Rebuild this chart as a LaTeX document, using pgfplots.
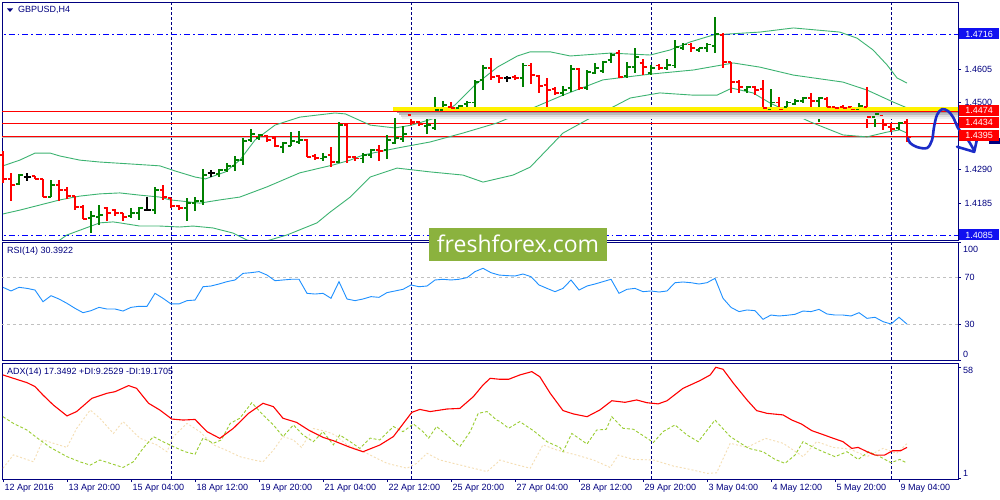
\documentclass[border=0pt]{standalone}
\usepackage{pgfplots}
\pgfplotsset{compat=1.18}
\usepackage{pgfplotstable}
\usepackage{fontspec}
\setmainfont{Liberation Sans}
\newfontfamily\logofont{Open Sans}

\definecolor{navyc}{RGB}{0,0,128}
\definecolor{bullc}{RGB}{0,128,0}
\definecolor{bearc}{RGB}{255,0,0}
\definecolor{bandc}{RGB}{60,179,113}
\definecolor{rsic}{RGB}{30,144,255}
\definecolor{pdic}{RGB}{154,205,50}
\definecolor{mdic}{RGB}{245,222,179}
\definecolor{levelc}{RGB}{192,192,192}
\definecolor{boxblue}{RGB}{16,16,240}
\definecolor{logoc}{RGB}{139,178,62}
\definecolor{penc}{RGB}{28,44,200}

% open / close ticks of an OHLC bar
\pgfdeclareplotmark{otick}{\pgfpathmoveto{\pgfqpoint{-3.5pt}{0pt}}\pgfpathlineto{\pgfqpoint{0pt}{0pt}}\pgfusepathqstroke}
\pgfdeclareplotmark{ctick}{\pgfpathmoveto{\pgfqpoint{0pt}{0pt}}\pgfpathlineto{\pgfqpoint{3.5pt}{0pt}}\pgfusepathqstroke}

% GBPUSD H4, bar index i (0 = 12 Apr 12:00)
\pgfplotstableread{
i o h l c
2 1.4245 1.4276 1.4242 1.4273
6 1.4204 1.4258 1.4204 1.4242
11 1.4138 1.4160 1.4091 1.4145
12 1.4141 1.4179 1.4116 1.4148
16 1.4145 1.4170 1.4138 1.4154
17 1.4154 1.4173 1.4132 1.4170
19 1.4163 1.4236 1.4151 1.4226
23 1.4170 1.4201 1.4129 1.4185
24 1.4185 1.4204 1.4160 1.4192
25 1.4192 1.4292 1.4179 1.4273
27 1.4276 1.4292 1.4267 1.4289
28 1.4289 1.4311 1.4283 1.4302
29 1.4302 1.4333 1.4286 1.4320
30 1.4320 1.4389 1.4305 1.4380
31 1.4383 1.4418 1.4377 1.4402
32 1.4389 1.4402 1.4383 1.4399
35 1.4361 1.4377 1.4342 1.4374
36 1.4364 1.4408 1.4364 1.4380
37 1.4377 1.4411 1.4371 1.4383
40 1.4324 1.4342 1.4317 1.4330
42 1.4314 1.4440 1.4311 1.4430
45 1.4324 1.4342 1.4311 1.4336
46 1.4336 1.4355 1.4327 1.4352
48 1.4352 1.4399 1.4324 1.4383
49 1.4374 1.4452 1.4371 1.4389
50 1.4386 1.4427 1.4377 1.4402
53 1.4427 1.4459 1.4402 1.4430
54 1.4421 1.4518 1.4415 1.4477
55 1.4477 1.4506 1.4462 1.4493
57 1.4484 1.4493 1.4477 1.4490
58 1.4496 1.4506 1.4487 1.4502
59 1.4502 1.4572 1.4484 1.4565
60 1.4572 1.4619 1.4540 1.4609
65 1.4578 1.4625 1.4550 1.4616
70 1.4531 1.4553 1.4521 1.4540
71 1.4546 1.4619 1.4534 1.4606
73 1.4546 1.4603 1.4540 1.4597
74 1.4594 1.4625 1.4590 1.4609
75 1.4600 1.4631 1.4594 1.4628
76 1.4634 1.4656 1.4625 1.4650
78 1.4584 1.4628 1.4578 1.4612
79 1.4612 1.4672 1.4594 1.4644
81 1.4594 1.4619 1.4587 1.4609
83 1.4609 1.4638 1.4603 1.4619
84 1.4616 1.4697 1.4609 1.4675
85 1.4672 1.4688 1.4666 1.4682
87 1.4666 1.4672 1.4660 1.4672
88 1.4672 1.4688 1.4660 1.4682
89 1.4678 1.4769 1.4656 1.4716
93 1.4540 1.4553 1.4531 1.4550
96 1.4480 1.4543 1.4459 1.4502
98 1.4487 1.4506 1.4474 1.4502
99 1.4496 1.4512 1.4493 1.4506
100 1.4506 1.4518 1.4499 1.4515
102 1.4506 1.4518 1.4440 1.4515
107 1.4480 1.4499 1.4452 1.4490
109 1.4455 1.4477 1.4424 1.4465
112 1.4421 1.4440 1.4415 1.4437
}\bullbars

\pgfplotstableread{
i o h l c
0 1.4336 1.4349 1.4248 1.4261
1 1.4261 1.4280 1.4192 1.4242
4 1.4270 1.4270 1.4261 1.4261
5 1.4261 1.4261 1.4204 1.4204
7 1.4242 1.4258 1.4192 1.4226
8 1.4226 1.4236 1.4198 1.4207
9 1.4207 1.4207 1.4163 1.4173
10 1.4173 1.4179 1.4135 1.4135
13 1.4170 1.4173 1.4129 1.4154
14 1.4163 1.4167 1.4145 1.4154
15 1.4154 1.4154 1.4129 1.4141
20 1.4226 1.4242 1.4195 1.4204
21 1.4201 1.4201 1.4170 1.4176
22 1.4176 1.4179 1.4163 1.4170
33 1.4396 1.4399 1.4377 1.4383
34 1.4389 1.4393 1.4361 1.4364
38 1.4383 1.4386 1.4330 1.4330
39 1.4333 1.4339 1.4320 1.4327
41 1.4336 1.4361 1.4298 1.4314
43 1.4430 1.4437 1.4311 1.4330
44 1.4330 1.4333 1.4317 1.4324
47 1.4352 1.4367 1.4317 1.4349
51 1.4462 1.4465 1.4430 1.4440
52 1.4440 1.4443 1.4427 1.4433
56 1.4487 1.4502 1.4468 1.4484
61 1.4609 1.4641 1.4572 1.4581
62 1.4584 1.4587 1.4562 1.4578
64 1.4581 1.4587 1.4572 1.4578
66 1.4616 1.4625 1.4559 1.4587
67 1.4584 1.4587 1.4531 1.4553
68 1.4556 1.4578 1.4474 1.4540
69 1.4543 1.4550 1.4524 1.4531
72 1.4606 1.4609 1.4540 1.4546
77 1.4656 1.4666 1.4578 1.4581
80 1.4625 1.4638 1.4587 1.4612
82 1.4616 1.4622 1.4603 1.4609
86 1.4682 1.4688 1.4660 1.4672
90 1.4713 1.4719 1.4609 1.4628
91 1.4628 1.4628 1.4531 1.4565
92 1.4565 1.4572 1.4531 1.4550
94 1.4550 1.4553 1.4524 1.4540
95 1.4543 1.4572 1.4468 1.4484
97 1.4502 1.4518 1.4465 1.4480
101 1.4515 1.4531 1.4468 1.4506
103 1.4512 1.4518 1.4468 1.4487
104 1.4487 1.4487 1.4462 1.4484
105 1.4487 1.4493 1.4474 1.4484
106 1.4487 1.4490 1.4471 1.4480
108 1.4487 1.4550 1.4421 1.4455
110 1.4459 1.4465 1.4415 1.4430
111 1.4424 1.4437 1.4408 1.4418
113 1.4440 1.4452 1.4377 1.4393
}\bearbars

\pgfplotstableread{
i o h l c
3 1.4267 1.4280 1.4254 1.4267
18 1.4163 1.4204 1.4160 1.4163
26 1.4280 1.4289 1.4267 1.4280
63 1.4578 1.4584 1.4565 1.4578
}\dojibars

% Bollinger bands
\pgfplotstableread{
i p
0 1.4302
2.1 1.4320
4 1.4342
5.9 1.4342
7.1 1.4333
9.6 1.4320
12.1 1.4314
15.9 1.4308
19.6 1.4302
21.5 1.4286
24 1.4267
25.3 1.4261
27.8 1.4283
29.6 1.4320
31.5 1.4383
34 1.4430
37.1 1.4455
41.5 1.4468
42.8 1.4465
45.9 1.4430
49 1.4421
51.1 1.4430
54 1.4452
56.5 1.4493
59 1.4556
61.8 1.4612
64.3 1.4647
65.9 1.4660
68.4 1.4660
70.9 1.4647
75.9 1.4656
80.9 1.4650
83.4 1.4666
85.9 1.4691
88.8 1.4713
94.6 1.4722
98.8 1.4735
104.6 1.4722
106.75 1.4703
108.75 1.4666
110.5 1.4619
111.75 1.4578
113 1.4562
}\bbup

\pgfplotstableread{
i p
0 1.4151
2.1 1.4163
4.6 1.4179
7.1 1.4195
9.6 1.4207
12.1 1.4214
14.6 1.4217
17.1 1.4210
19.6 1.4204
20.9 1.4195
22.1 1.4192
24.6 1.4185
27.1 1.4195
29.6 1.4204
33 1.4236
37.1 1.4280
41.3 1.4305
43.4 1.4320
45 1.4336
49.3 1.4358
53.4 1.4377
57.5 1.4405
61.8 1.4437
65.6 1.4477
70 1.4524
75 1.4572
80.9 1.4590
86.3 1.4603
91.3 1.4625
94.6 1.4612
98.8 1.4587
105 1.4565
108 1.4540
111.3 1.4502
113 1.4484
}\bbmid

\pgfplotstableread{
i p
0 1.4000
3.4 1.4032
7.1 1.4069
8 1.4085
12.1 1.4123
13.75 1.4126
14.6 1.4123
17.1 1.4113
19.6 1.4113
22.1 1.4110
23.75 1.4113
26.25 1.4107
28.75 1.4091
30.5 1.4069
32.1 1.4060
35.5 1.4085
39.25 1.4123
40.9 1.4157
43.4 1.4204
45.9 1.4267
49.25 1.4295
53.4 1.4283
57.5 1.4273
60 1.4251
63.75 1.4273
65.9 1.4298
70 1.4405
73.4 1.4452
75.5 1.4477
78.4 1.4515
82.1 1.4531
86.25 1.4524
89.25 1.4524
91.1 1.4546
93.75 1.4531
95.9 1.4499
100.9 1.4440
105 1.4399
108 1.4393
110.5 1.4408
112.1 1.4415
113 1.4405
}\bblow

% RSI(14)
\pgfplotstableread{
i v
0 61.6
1 58.5
2 61.6
3 60.7
4 59.3
5 49.4
6 54.5
7 51.7
8 48
9 43.8
10 40.1
11 41.8
12 44.6
13 43.2
14 43.2
15 41.5
16 44.6
17 45.5
18 45.5
19 56.5
20 52.3
21 47.5
22 47.5
23 50.3
24 50.8
25 62.1
26 62.7
27 64.4
28 66.4
29 67.8
30 73.4
31 74
32 74.9
33 72
34 67.2
35 67.8
36 68.4
37 68.4
38 56.5
39 55.9
40 56.5
41 52.3
42 66.4
43 51.7
44 50.3
45 51.7
46 53.7
47 53.1
48 57.1
49 58.5
50 59.9
51 63.6
52 62.1
53 62.7
54 67.8
55 68.4
56 67.8
57 68.4
58 69.8
59 74.9
60 77.7
61 74
62 72
63 71.5
64 71.2
65 72.9
66 70.6
67 63.6
68 60.7
69 57.9
70 60.7
71 67.8
72 59.3
73 62.7
74 64.4
75 66.4
76 68.4
77 56.5
78 59.9
79 60.7
80 57.9
81 58.5
82 57.6
83 58.5
84 65.5
85 66.1
86 65.5
87 64.4
88 65.5
89 69.2
90 52.3
91 44.6
92 41
93 42.4
94 41.8
95 34.5
96 38.1
97 37.3
98 37.9
99 38.7
100 41.5
101 41
102 42.9
103 39
104 38.1
105 38.1
106 37.3
107 40.1
108 35.3
109 36.2
110 32.5
111 30.5
112 36.2
113 30.4
}\rsi

% ADX(14)
\pgfplotstableread{
i v
0 54.1
1.3 52.4
3 50.2
4 48.2
5 43.9
6.3 38.8
8 33.3
9.2 35.5
11.1 42.2
13 44.8
14 45.6
15.7 48.7
16.7 47.3
18.2 39.7
19.6 36.3
21.1 31.7
22.5 31.2
24 31.5
25.5 25.3
27.1 21.9
28.8 27
30.7 34.6
32.5 39.7
33.8 38
35 32.1
36.7 30
38.2 26.1
40 22.4
41.3 20.7
43.4 17.3
45 15.1
47.1 18.5
48.8 22.8
51.1 35.1
52.1 36.6
53.4 35.5
55.5 36.8
57.1 37.1
58.8 43.1
60 49
60.9 52.4
62.1 51.9
63.2 51.9
64.6 54.1
66.1 55.8
67.1 53.2
68.4 44.8
70 36
71.3 34.3
73 32.9
74.6 36.3
76.1 41
77.75 40.2
79.2 41.4
80.5 40
81.9 39.4
83 41
85 47.3
87.1 51.2
88.4 54.1
89.1 58
90 57
91.3 49.9
93 41.4
94.2 36
95.5 34.6
97.5 33.8
98.6 31.2
99.8 29.2
101.1 25.8
102.3 24.1
103.8 21.9
105 20.2
106.1 16.8
106.9 17.3
108 15.1
109 13.4
110.2 13.4
111.2 15.6
112.2 15.6
113 17.3
}\adx

\pgfplotstableread{
i v
0 32.9
1.3 29.5
3 26.1
4.6 21.1
5.9 17.3
8 12.6
9.6 10
10.9 8.3
12.1 10.9
13.4 9.2
15 7.1
16.3 10
17.5 16.8
18.8 22.8
20 20.2
21.3 17.7
22.75 15.1
24 13.8
25 22
26.3 19.4
27.3 21.1
28.4 29.5
29.6 32.1
31.1 40
32.5 33.8
33.8 28.7
35 22.8
36.3 28.7
37.5 23.6
38.8 20.2
40 25.3
41.3 18.6
42.1 23.6
43.4 20.2
44.6 16.8
45.9 22
47.1 21.1
48.8 27.9
50 25.3
51.3 29.2
52.5 25.3
53.2 22
54.2 27.9
55.7 22.8
57.1 17.7
58.4 25.3
59.4 34.6
60.5 35.5
61.7 31.2
62.1 30.5
63.2 27
64.6 30.4
66.3 25.8
68 20.2
69.6 17.3
70 15.1
71.1 24.4
73 19
74.2 26.1
75.4 26.5
76.1 32.9
77.5 27
78.8 26.5
81.3 19.8
82.5 25.3
84 28.7
85.5 23.6
86.9 20.2
89 31.2
90.9 22.8
93.2 16.8
95 15.1
96.5 11.2
97.75 9.2
99 13.4
100 20.2
101.3 17.3
102.5 15.1
104 12.6
105.5 15.1
106.9 11.2
108.2 15.1
109.6 12.6
111 9.5
112.1 11.2
113 9.3
}\pdi

\pgfplotstableread{
i v
0 6.7
1.3 13.5
2.5 11.8
3.8 10
5 21.1
6.3 19.4
8 17.3
9.2 26.9
10.9 36.3
12.1 32.1
13.8 24.4
15 30.4
17.1 22
19.2 18.6
20.5 15.1
21.3 22.8
23 29.5
24.6 25.3
26.3 18.6
28 15.7
29.6 12.6
31.3 10.9
32.5 10
33.8 15.9
35 22.8
36.3 21.1
37.3 17.3
38.8 26.9
40.5 25.3
41.5 23.6
43 18.6
44.6 16
46.3 12.6
48 9.2
50.5 6.7
51.7 9.2
53 14.3
54.6 10.9
56.3 9.2
58 7.5
60.5 5
61.7 9.2
62.1 10.9
63.8 8.9
65.9 6.7
67.5 18.6
69.2 16
71.7 13.4
73.8 10.9
75.9 7.1
76.9 13.4
78.8 11.2
81.3 10.9
83.8 7.8
85.9 6.1
88 4.1
89.2 4.4
90.9 19.4
93 17.3
95.3 21.9
97.5 19.4
100 12.6
101.7 20.2
103.8 17.3
105.9 16.4
108 12.6
110 16.8
111.7 14.3
113 19.2
}\mdi

\pgfplotsset{
  pane/.style={scale only axis, width=956pt, xmin=-0.125, xmax=119.375,
    anchor=south west, axis line style={navyc, line width=0.9pt},
    xtick=\empty, tick align=outside, major tick length=3pt,
    tick style={navyc, line width=0.8pt},
    ytick pos=right, yticklabel pos=right,
    tick label style={font=\fontsize{9}{10}\selectfont, text=navyc},
    extra x ticks={21,51,81,111}, extra x tick labels={},
    extra x tick style={grid=major, major tick length=0pt},
    major grid style={navyc, line width=0.8pt, dash pattern=on 3pt off 2pt}},
  ohlc/.style={only marks, mark=ctick, mark options={line width=1.3pt},
    error bars/.cd, y dir=both, y explicit, error mark=none,
    error bar style={line width=1.7pt}},
  opent/.style={only marks, mark=otick, mark options={line width=1.3pt}},
}

\begin{document}
\begin{tikzpicture}
\path[use as bounding box, fill=white] (0,0) rectangle (1000pt,500pt);

% ---------- price pane ----------
\begin{axis}[pane, at={(2pt,260pt)}, height=238pt,
    ymin=1.40692, ymax=1.48165,
    ytick={1.4185,1.4290,1.4500,1.4605}, scaled y ticks=false,
    yticklabel style={/pgf/number format/fixed, /pgf/number format/fixed zerofill,
      /pgf/number format/precision=4, /pgf/number format/assume math mode=true}]
\addplot[blue, line width=0.9pt, dash pattern=on 6pt off 3pt on 1.5pt off 3pt] coordinates {(-1,1.4716) (120,1.4716)};
\addplot[blue, line width=0.9pt, dash pattern=on 6pt off 3pt on 1.5pt off 3pt] coordinates {(-1,1.4085) (120,1.4085)};
\addplot[levelc, line width=0.9pt] coordinates {(-1,1.4391) (120,1.4391)};
\addplot[bearc, line width=1.1pt] coordinates {(-1,1.4434) (120,1.4434)};
\addplot[bearc, line width=1.1pt] coordinates {(-1,1.4395) (120,1.4395)};

\addplot[bandc, line width=0.9pt] table[x=i,y=p] \bbup;
\addplot[bandc, line width=0.9pt] table[x=i,y=p] \bbmid;
\addplot[bandc, line width=0.9pt] table[x=i,y=p] \bblow;

\addplot[bullc, ohlc] table[x=i, y=c, y error plus expr=\thisrow{h}-\thisrow{c}, y error minus expr=\thisrow{c}-\thisrow{l}] \bullbars;
\addplot[bullc, opent] table[x=i, y=o] \bullbars;
\addplot[bearc, ohlc] table[x=i, y=c, y error plus expr=\thisrow{h}-\thisrow{c}, y error minus expr=\thisrow{c}-\thisrow{l}] \bearbars;
\addplot[bearc, opent] table[x=i, y=o] \bearbars;
\addplot[black, ohlc] table[x=i, y=c, y error plus expr=\thisrow{h}-\thisrow{c}, y error minus expr=\thisrow{c}-\thisrow{l}] \dojibars;
\addplot[black, opent] table[x=i, y=o] \dojibars;

% highlighted level with its shadow
\addplot[black!40, line width=2pt] coordinates {(49.3,1.44696) (120,1.44696)};
\addplot[black!26, line width=2pt] coordinates {(49.5,1.44633) (120,1.44633)};
\addplot[black!14, line width=2pt] coordinates {(49.7,1.44570) (120,1.44570)};
\addplot[black!6, line width=2pt] coordinates {(49.9,1.44507) (120,1.44507)};
\addplot[yellow, line width=4.5pt] coordinates {(48.75,1.4481) (120,1.4481)};
\addplot[bearc, line width=1.1pt] coordinates {(-1,1.4474) (120,1.4474)};
\end{axis}

% hand drawn forecast
\begin{axis}[at={(2pt,260pt)}, anchor=south west, scale only axis, width=956pt, height=238pt,
    xmin=-0.125, xmax=119.375, ymin=1.40692, ymax=1.48165, hide axis, clip=false]
\addplot[penc, line width=2.6pt, smooth, tension=0.55, line cap=round] coordinates {
 (113.125,1.4389) (113.375,1.4374) (114.25,1.4361) (115.5,1.4358) (116.125,1.4383)
 (116.375,1.4424) (116.75,1.4462) (117.375,1.4480) (118.125,1.4474) (118.75,1.4455)
 (119.375,1.4421) (120,1.4399) (120.625,1.4383) (121.4,1.4350)};
\addplot[penc, line width=2.6pt, line cap=round, line join=round] coordinates {
 (119.25,1.4362) (121.4,1.4346) (121.75,1.4386)};
\end{axis}

% ---------- RSI pane ----------
\begin{axis}[pane, at={(2pt,140pt)}, height=118pt, ymin=0, ymax=100,
    ytick={0,30,70,100}, yticklabels={,30,70,}]
\addplot[levelc, line width=0.8pt, dash pattern=on 3pt off 3pt] coordinates {(-1,70) (120,70)};
\addplot[levelc, line width=0.8pt, dash pattern=on 3pt off 3pt] coordinates {(-1,30) (120,30)};
\addplot[rsic, line width=0.9pt] table[x=i,y=v] \rsi;
\end{axis}

% ---------- ADX pane ----------
\begin{axis}[pane, at={(2pt,21pt)}, height=116pt, ymin=1.24, ymax=60.18,
    ytick={58,1.5}, yticklabels={,},
    xtick={0,8,...,112}, xtick pos=bottom,
    xticklabels={12 Apr 2016,13 Apr 20:00,15 Apr 04:00,18 Apr 12:00,19 Apr 20:00,
      21 Apr 04:00,22 Apr 12:00,25 Apr 20:00,27 Apr 04:00,28 Apr 12:00,
      29 Apr 20:00,3 May 04:00,4 May 12:00,5 May 20:00,9 May 04:00},
    xticklabel style={anchor=north west, xshift=-2pt, yshift=1pt}]
\addplot[mdic, line width=0.9pt, dash pattern=on 2pt off 2pt] table[x=i,y=v] \mdi;
\addplot[pdic, line width=0.9pt, dash pattern=on 3pt off 2pt] table[x=i,y=v] \pdi;
\addplot[bearc, line width=1.1pt] table[x=i,y=v] \adx;
\end{axis}

% ---------- texts and labels ----------
\begin{scope}[font=\fontsize{9}{10}\selectfont]
\fill[navyc] (7pt,491.5pt) -- (13pt,491.5pt) -- (10pt,488pt) -- cycle;
\node[anchor=west, inner sep=0pt, text=navyc] at (18pt,490pt) {GBPUSD,H4};
\node[anchor=west, inner sep=0pt, text=navyc] at (7pt,249pt) {RSI(14) 30.3922};
\node[anchor=west, inner sep=0pt, text=navyc] at (7pt,128pt) {ADX(14) 17.3492 +DI:9.2529 -DI:19.1705};
\node[anchor=west, inner sep=0pt, text=navyc] at (963pt,251pt) {100};
\node[anchor=west, inner sep=0pt, text=navyc] at (963pt,146pt) {0};
\node[anchor=west, inner sep=0pt, text=navyc] at (963pt,130pt) {58};
\node[anchor=west, inner sep=0pt, text=navyc] at (963pt,27pt) {1};

\fill[navyc] (989pt,356pt) rectangle (1000pt,362pt);
\node[anchor=west, fill=boxblue, text=white, inner sep=0pt, minimum width=40pt, minimum height=11pt] at (959pt,466pt) {1.4716};
\node[anchor=west, fill=boxblue, text=white, inner sep=0pt, minimum width=40pt, minimum height=11pt] at (959pt,265pt) {1.4085};
\node[anchor=west, fill=bearc, text=white, inner sep=0pt, minimum width=40pt, minimum height=11pt] at (959pt,389.5pt) {1.4474};
\node[anchor=west, fill=bearc, text=white, inner sep=0pt, minimum width=40pt, minimum height=11pt] at (959pt,377.5pt) {1.4434};
\node[anchor=west, fill=bearc, text=white, inner sep=0pt, minimum width=40pt, minimum height=11pt] at (959pt,364.5pt) {1.4395};
\end{scope}

% watermark
\fill[logoc] (429pt,239pt) rectangle (607pt,272pt);
\node[anchor=base, text=white, inner sep=0pt, font=\logofont\fontsize{23}{26}\selectfont] at (518pt,247.5pt) {freshforex.com};
\end{tikzpicture}
\end{document}
